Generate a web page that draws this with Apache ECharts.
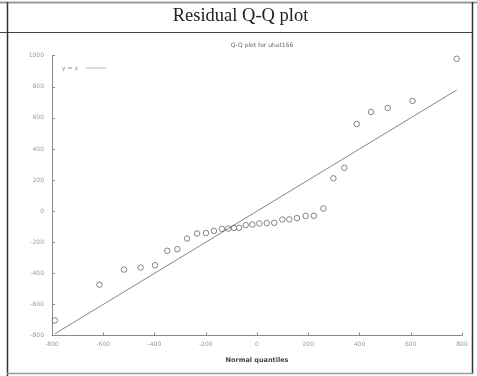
<!DOCTYPE html>
<html>
<head>
<meta charset="utf-8">
<script src="https://cdn.jsdelivr.net/npm/echarts@6/dist/echarts.min.js"></script>
<style>
  html, body { margin: 0; padding: 0; background: #fff; }
  #chart { width: 477px; height: 376px; }
</style>
</head>
<body>
<div id="chart"></div>
<script>
// Normal quantiles (x) and sorted residuals of uhat166 (y)
const normalQuantiles = [-789, -615, -519, -454, -398, -350, -311, -273, -234, -199,
  -168, -137, -112, -90, -70, -44, -18, 9, 38, 67,
  99, 126, 156, 190, 222, 259, 298, 341, 389, 445,
  510, 607, 779];
const residuals = [-703, -473, -376, -363, -348, -255, -245, -176, -144, -141,
  -127, -114, -112, -108, -107, -90, -86, -79, -77, -75,
  -54, -53, -45, -31, -30, 17, 211, 279, 561, 638,
  664, 709, 980];
// Reference line y = x across the range of quantiles
const refLineX = [-789, 779];

const xTicks = [-800, -600, -400, -200, 0, 200, 400, 600, 800];
const yTicks = [-800, -600, -400, -200, 0, 200, 400, 600, 800, 1000];

const points = normalQuantiles.map((q, i) => [q, residuals[i]]);
const refLine = refLineX.map(v => [v, v]);

const chart = echarts.init(document.getElementById('chart'), null, { renderer: 'canvas' });

const axisCommon = {
  axisLine: { show: true, onZero: false, lineStyle: { color: '#8a8a8a', width: 1 } },
  axisTick: { show: true, inside: true, length: 3, lineStyle: { color: '#8a8a8a' } },
  axisLabel: { color: '#999', fontSize: 6, fontFamily: 'DejaVu Sans' },
  splitLine: { show: false }
};

chart.setOption({
  animation: false,
  backgroundColor: '#fff',
  title: {
    text: 'Q-Q plot for uhat166',
    left: 257, top: 37, textAlign: 'center',
    textStyle: { fontSize: 6, fontWeight: 'normal', color: '#666', fontFamily: 'DejaVu Sans' }
  },
  legend: {
    data: [{ name: 'y = x', icon: 'rect', itemStyle: { color: '#b5b5b5' } }],
    left: 57, top: 60,
    align: 'right',
    itemWidth: 20, itemHeight: 1, itemGap: 4,
    textStyle: { fontSize: 6, color: '#888', fontFamily: 'DejaVu Sans', padding: [0, 3, 0, 0] }
  },
  grid: { left: 52, right: 15, top: 55.7, bottom: 40.5, containLabel: false },
  xAxis: Object.assign({}, axisCommon, {
    type: 'value', min: -800, max: 800, interval: 200,
    name: 'Normal quantiles', nameLocation: 'middle', nameGap: 21,
    nameTextStyle: { fontSize: 6.5, color: '#444', fontFamily: 'DejaVu Sans', fontWeight: 'bold' },
    axisLabel: Object.assign({}, axisCommon.axisLabel, { margin: 6,
      formatter: v => xTicks.includes(v) ? String(v) : '' })
  }),
  yAxis: Object.assign({}, axisCommon, {
    type: 'value', min: -800, max: 1000, interval: 200,
    axisLabel: Object.assign({}, axisCommon.axisLabel, { margin: 8,
      formatter: v => yTicks.includes(v) ? String(v) : '' })
  }),
  series: [
    {
      name: 'y = x',
      type: 'line',
      data: refLine,
      symbol: 'none',
      lineStyle: { color: '#666', width: 0.8 },
      silent: true
    },
    {
      name: 'uhat166',
      type: 'scatter',
      data: points,
      symbol: 'circle',
      symbolSize: 5.5,
      itemStyle: { color: '#fff', borderColor: '#555', borderWidth: 0.9 },
      silent: true
    }
  ],
  graphic: [
    // table frame around the figure
    { type: 'line', shape: { x1: 0, y1: 2.5, x2: 477, y2: 2.5 }, style: { stroke: '#9a9a9a', lineWidth: 2 } },
    { type: 'line', shape: { x1: 0, y1: 32.5, x2: 473, y2: 32.5 }, style: { stroke: '#444', lineWidth: 1 } },
    { type: 'line', shape: { x1: 7.5, y1: 2, x2: 7.5, y2: 376 }, style: { stroke: '#333', lineWidth: 1.5 } },
    { type: 'line', shape: { x1: 472.5, y1: 2, x2: 472.5, y2: 374 }, style: { stroke: '#333', lineWidth: 1.5 } },
    { type: 'line', shape: { x1: 7, y1: 373.5, x2: 473, y2: 373.5 }, style: { stroke: '#9a9a9a', lineWidth: 1.5 } },
    {
      type: 'text', x: 240.5, y: 6.5,
      style: { text: 'Residual Q-Q plot', fontSize: 18.5, fontFamily: 'Liberation Serif', fill: '#222', align: 'center' }
    }
  ]
});
</script>
</body>
</html>
